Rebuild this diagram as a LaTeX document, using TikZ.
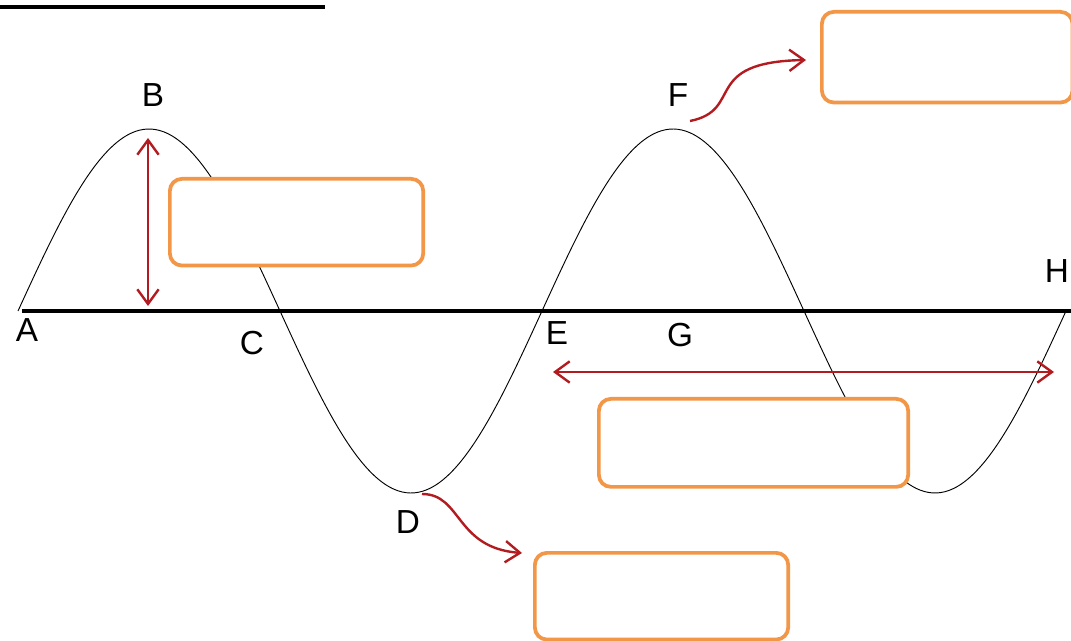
\documentclass[tikz,border=0pt]{standalone}
\usepackage{fontspec}
\setmainfont{Liberation Sans}
\usetikzlibrary{arrows.meta,positioning}
\definecolor{waveorange}{RGB}{242,150,72}
\definecolor{wavered}{RGB}{178,28,32}
\tikzset{
  answerbox/.style={draw=waveorange, line width=2.8pt, fill=white, rounded corners=9pt,
    anchor=north west, inner sep=0pt},
  ptlabel/.style={font=\fontsize{25}{28}\selectfont, inner sep=0pt},
  redarr/.style={{Straight Barb[length=11pt,width=16pt]}-{Straight Barb[length=11pt,width=16pt]},
    line width=1.8pt, wavered},
  curvearr/.style={-{Straight Barb[length=11pt,width=16pt]}, line width=1.8pt, wavered},
  wave/.style={line width=0.7pt, black}
}
\begin{document}
\begin{tikzpicture}[x=0.75pt,y=-0.75pt]
  \useasboundingbox (0,0) rectangle (1071,641);
  % cut-off heading rule
  \draw[line width=2.4pt] (0,7) -- (325,7);
  % axis
  \coordinate (axisL) at (22,311);
  \coordinate (axisR) at (1071,311);
  \draw[line width=2.4pt] (axisL) -- (axisR);
  % wave
  \draw[wave, domain=18:1066, samples=260, smooth]
    plot (\x, {311-182*sin(0.687023*(\x-18))});
  % points on the wave
  \coordinate (peakB) at (148,138);
  \coordinate (footB) at (148,306);
  \coordinate (troughD) at (422,494);
  \coordinate (peakF) at (690,121);
  \coordinate (arrE) at (553,372);
  \coordinate (arrH) at (1054,372);
  \coordinate (tipD) at (522,553);
  \coordinate (tipF) at (806,60);
  % answer boxes
  \node[answerbox, minimum width=190pt, minimum height=65pt] (boxB) at (168,177) {};
  \node[answerbox, minimum width=188pt, minimum height=68pt] (boxF) at (820,10) {};
  \node[answerbox, minimum width=232pt, minimum height=66pt] (boxG) at (597,397) {};
  \node[answerbox, minimum width=190pt, minimum height=65pt] (boxD) at (533,551) {};
  % letters
  \node[ptlabel] (labA) at (27,330) {A};
  \node[ptlabel] (labB) at (153,95) {B};
  \node[ptlabel] (labC) at (252,343) {C};
  \node[ptlabel] (labD) at (408,522) {D};
  \node[ptlabel] (labE) at (557,333) {E};
  \node[ptlabel] (labF) at (678,95) {F};
  \node[ptlabel] (labG) at (680,335) {G};
  \node[ptlabel] (labH) at (1057,271) {H};
  % red arrows
  \draw[redarr] (peakB) -- (footB);
  \draw[redarr] (arrE) -- (arrH);
  \draw[curvearr] (troughD) .. controls (462,494) and (455,548) .. (tipD);
  \draw[curvearr] (peakF) .. controls (745,110) and (700,62) .. (tipF);
\end{tikzpicture}
\end{document}
